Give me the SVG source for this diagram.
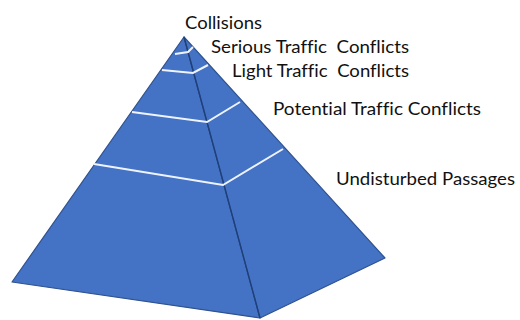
<svg xmlns="http://www.w3.org/2000/svg" width="520" height="320" viewBox="0 0 520 320">
  <style>
    .face { fill: #4472c4; stroke: #2f528f; stroke-width: 1.2; stroke-linejoin: round; }
    .edge { fill: none; stroke: #1f3f78; stroke-width: 1.3; }
    .band { fill: none; stroke: #eef4ff; stroke-width: 2; stroke-linejoin: miter; }
    .lbl { font-family: Lato, "Open Sans", "Liberation Sans", sans-serif; font-size: 17.5px; fill: #111111; white-space: pre; font-variant-ligatures: none; }
  </style>
  <rect width="520" height="320" fill="#ffffff"/>
  <g id="pyramid">
    <polygon class="face" points="184,37 12,282 260,318"/>
    <polygon class="face" points="184,37 260,318 385,258"/>
    <line class="edge" x1="184" y1="37" x2="260" y2="318"/>
  </g>
  <g id="bands">
    <polyline class="band" points="175,54 188,52 193,47"/>
    <polyline class="band" points="162,70 193,73 208,65"/>
    <polyline class="band" points="132,112 207,122 240,102"/>
    <polyline class="band" points="94,164 223,185 283,149"/>
  </g>
  <g id="collisions"><text class="lbl" x="185" y="29" textLength="77" lengthAdjust="spacingAndGlyphs">Collisions</text></g>
  <g id="serious"><text class="lbl" x="211" y="53" textLength="198" lengthAdjust="spacingAndGlyphs">Serious Traffic  Conflicts</text></g>
  <g id="light"><text class="lbl" x="232" y="77" textLength="177" lengthAdjust="spacingAndGlyphs">Light Traffic  Conflicts</text></g>
  <g id="potential"><text class="lbl" x="273" y="115" textLength="208" lengthAdjust="spacingAndGlyphs">Potential Traffic Conflicts</text></g>
  <g id="undisturbed"><text class="lbl" x="336" y="185" textLength="179" lengthAdjust="spacingAndGlyphs">Undisturbed Passages</text></g>
</svg>
